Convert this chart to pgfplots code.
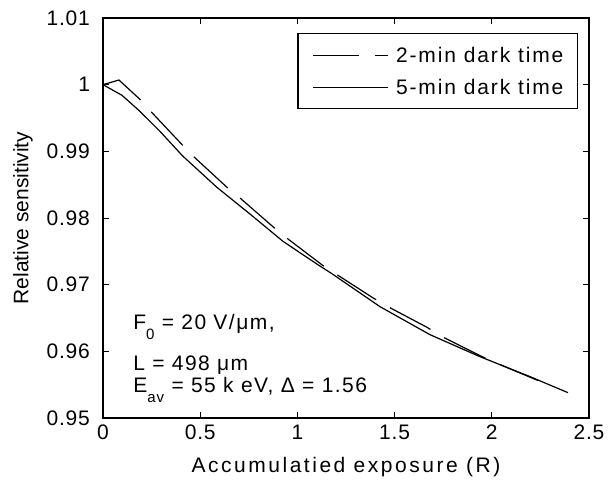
\documentclass[border=0pt]{standalone}
\usepackage{pgfplots}
\pgfplotsset{compat=1.18}
\usepackage{fontspec}
\setmainfont{Liberation Sans}
\newfontfamily\lsfont[LetterSpace=9]{Liberation Sans}
\newfontfamily\xlfont[LetterSpace=12]{Liberation Sans}
\newfontfamily\tkfont[LetterSpace=4]{Liberation Sans}
\newfontfamily\anfont[LetterSpace=7]{Liberation Sans}
\newcommand{\sub}[1]{\raisebox{-5pt}{\fontsize{7.5}{8}\selectfont #1}}
\begin{document}
\begin{tikzpicture}
\path[use as bounding box] (-51.5pt,-33pt) rectangle (253pt,209pt);
\begin{axis}[
  at={(0pt,0pt)}, anchor=south west,
  scale only axis, width=243pt, height=200pt,
  xmin=0, xmax=2.5, ymin=0.95, ymax=1.01,
  xtick={0,0.5,1,1.5,2,2.5},
  ytick={0.95,0.96,0.97,0.98,0.99,1,1.01},
  /pgf/number format/assume math mode=true,
  yticklabel style={/pgf/number format/fixed, /pgf/number format/precision=2, xshift=-3pt, font=\tkfont\fontsize{10.5}{12}\selectfont},
  xticklabel style={/pgf/number format/fixed, font=\tkfont\fontsize{10.5}{12}\selectfont},
  tick align=inside, major tick length=3pt,
  tick style={black, line width=0.5pt},
  axis line style={line width=0.6pt},
  xlabel style={font=\xlfont\fontsize{10.5}{12}\selectfont, yshift=-2pt},
  ylabel style={font=\fontsize{10.5}{12}\selectfont},
  xlabel={Accumulatied exposure (R)},
  ylabel={Relative sensitivity},
  legend style={at={(1,1)}, anchor=north east, xshift=-5.5pt, yshift=-7.5pt,
    font=\lsfont\fontsize{10.5}{12}\selectfont, draw=black, line width=0.6pt,
    inner xsep=7pt, inner ysep=7pt, row sep=8.5pt, column sep=0pt,
    nodes={inner sep=0pt, text height=7.5pt, text depth=0pt}},
  legend cell align=left,
  legend image code/.code={\path[draw=none] (0pt,0pt) -- (42pt,0pt);
    \draw[#1] (0.5pt,0pt) -- (38pt,0pt);},
]
\addplot[black, line width=0.6pt, dash pattern=on 23pt off 8pt] coordinates {
(0,1.0) (0.082,1.0007) (0.19,0.9978) (0.252,0.9958) (0.41,0.9909) (0.463,0.9893)
(0.638,0.9846) (0.705,0.9830) (0.874,0.9787) (0.936,0.9772) (1.13,0.9729)
(1.193,0.9717) (1.39,0.9680) (1.466,0.9667) (1.667,0.9636) (1.744,0.9622)
(1.95,0.9592) (2.1,0.9573) (2.24,0.9556)
};
\addlegendentry{2-min dark time}
\addplot[black, line width=0.6pt] coordinates {
(0,1.0) (0.098,0.9984) (0.19,0.996) (0.293,0.993) (0.41,0.9893) (0.586,0.9846)
(0.756,0.9806) (0.926,0.9765) (1.1,0.9731) (1.18,0.9716) (1.425,0.9667)
(1.682,0.9625) (1.939,0.9592) (2.197,0.9562) (2.392,0.9538)
};
\addlegendentry{5-min dark time}
\node[anchor=base west, inner sep=0pt, font=\anfont\fontsize{10.5}{12}\selectfont] at (axis cs:0.154,0.9633) {F\sub{0} = 20 V/μm,};
\node[anchor=base west, inner sep=0pt, font=\anfont\fontsize{10.5}{12}\selectfont] at (axis cs:0.154,0.9572) {L = 498 μm};
\node[anchor=base west, inner sep=0pt, font=\anfont\fontsize{10.5}{12}\selectfont] at (axis cs:0.154,0.9539) {E\sub{av} = 55 k eV, Δ = 1.56};
\end{axis}
\end{tikzpicture}
\end{document}
